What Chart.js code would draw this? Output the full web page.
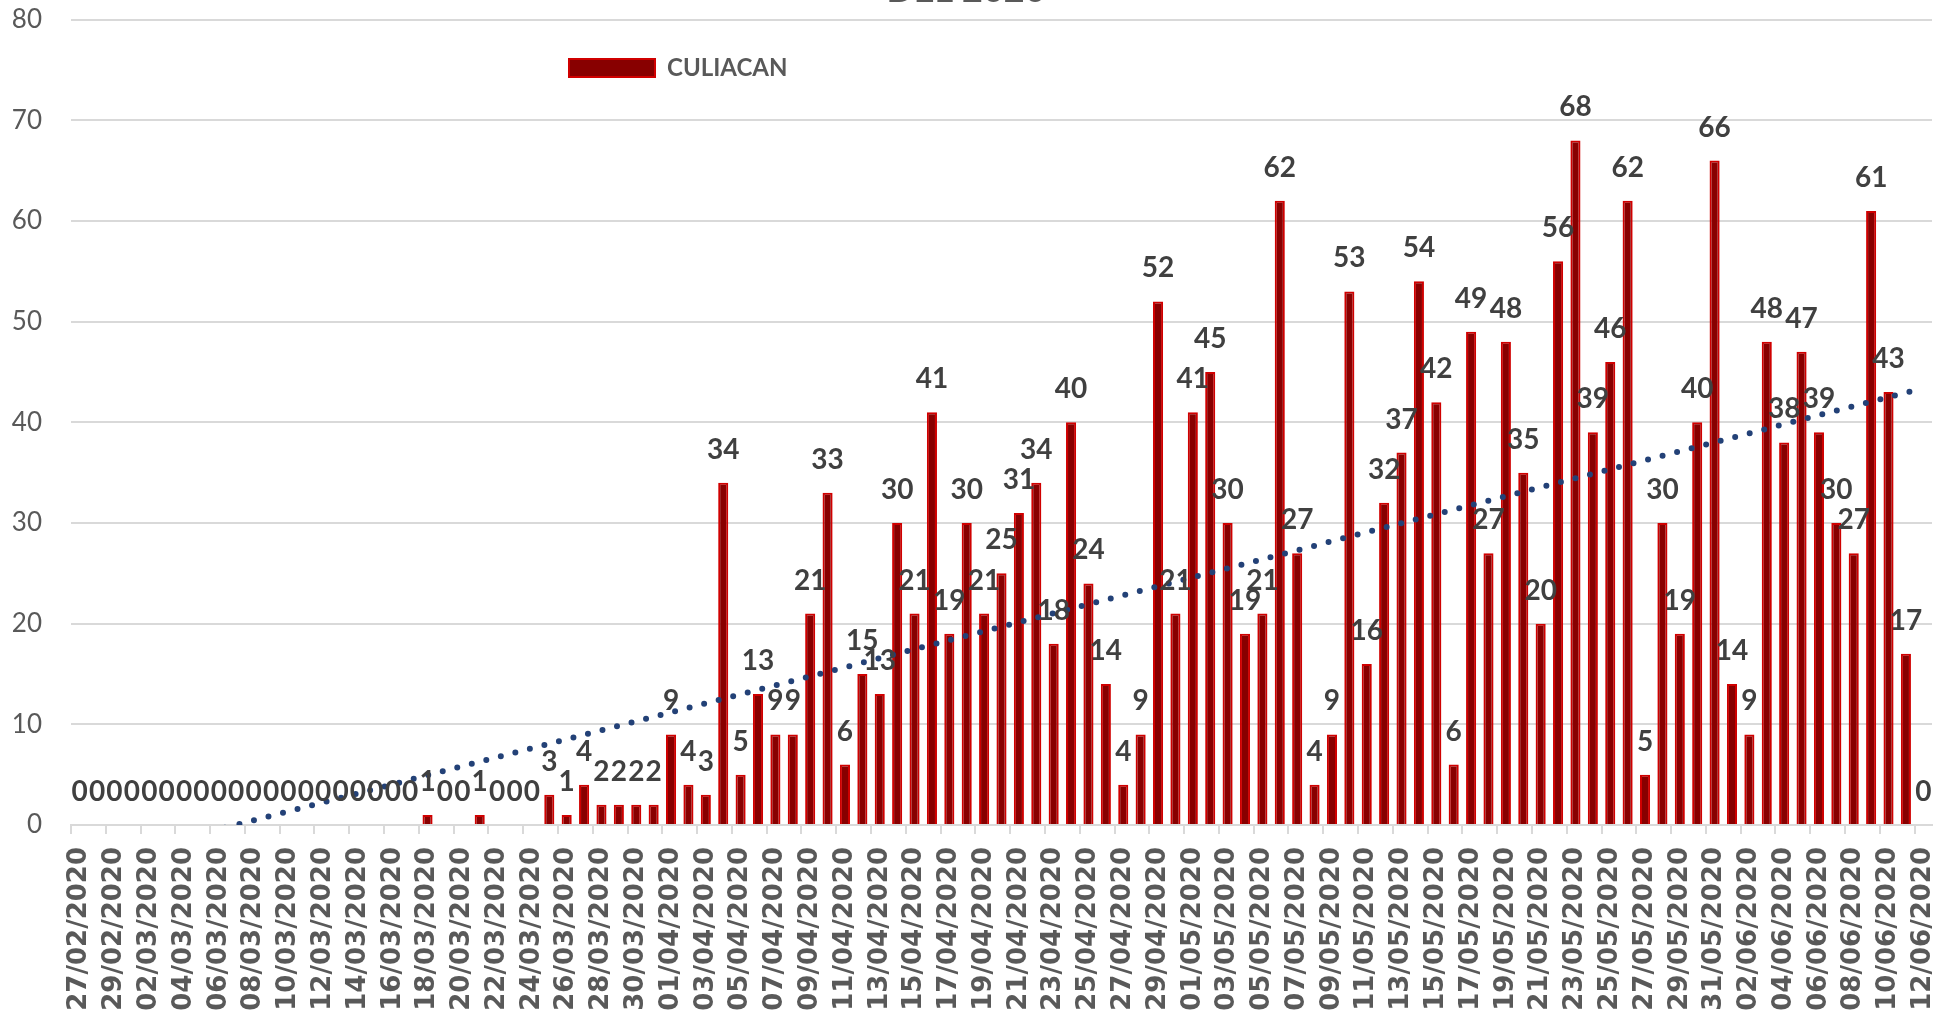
<!DOCTYPE html>
<html>
<head>
<meta charset="utf-8">
<title>Culiacan</title>
<script src="https://cdn.jsdelivr.net/npm/chart.js@4.4.0/dist/chart.umd.min.js"></script>
<style>
  html, body { margin: 0; padding: 0; background: #ffffff; }
  #wrap { width: 1934px; height: 1012px; position: relative; }
</style>
</head>
<body>
<div id="wrap"><canvas id="grafica"></canvas></div>
<script>
const fechas = [
  "27/02/2020", "28/02/2020", "29/02/2020",
  "01/03/2020", "02/03/2020", "03/03/2020", "04/03/2020", "05/03/2020", "06/03/2020", "07/03/2020", "08/03/2020",
  "09/03/2020", "10/03/2020", "11/03/2020", "12/03/2020", "13/03/2020", "14/03/2020", "15/03/2020", "16/03/2020",
  "17/03/2020", "18/03/2020", "19/03/2020", "20/03/2020", "21/03/2020", "22/03/2020", "23/03/2020", "24/03/2020",
  "25/03/2020", "26/03/2020", "27/03/2020", "28/03/2020", "29/03/2020", "30/03/2020", "31/03/2020",
  "01/04/2020", "02/04/2020", "03/04/2020", "04/04/2020", "05/04/2020", "06/04/2020", "07/04/2020", "08/04/2020",
  "09/04/2020", "10/04/2020", "11/04/2020", "12/04/2020", "13/04/2020", "14/04/2020", "15/04/2020", "16/04/2020",
  "17/04/2020", "18/04/2020", "19/04/2020", "20/04/2020", "21/04/2020", "22/04/2020", "23/04/2020", "24/04/2020",
  "25/04/2020", "26/04/2020", "27/04/2020", "28/04/2020", "29/04/2020", "30/04/2020",
  "01/05/2020", "02/05/2020", "03/05/2020", "04/05/2020", "05/05/2020", "06/05/2020", "07/05/2020", "08/05/2020",
  "09/05/2020", "10/05/2020", "11/05/2020", "12/05/2020", "13/05/2020", "14/05/2020", "15/05/2020", "16/05/2020",
  "17/05/2020", "18/05/2020", "19/05/2020", "20/05/2020", "21/05/2020", "22/05/2020", "23/05/2020", "24/05/2020",
  "25/05/2020", "26/05/2020", "27/05/2020", "28/05/2020", "29/05/2020", "30/05/2020", "31/05/2020",
  "01/06/2020", "02/06/2020", "03/06/2020", "04/06/2020", "05/06/2020", "06/06/2020", "07/06/2020", "08/06/2020",
  "09/06/2020", "10/06/2020", "11/06/2020", "12/06/2020"
];

// casos por dia (feb 27 -> jun 12)
const casos = [
  0, 0, 0, 0, 0, 0, 0, 0, 0, 0, 0, 0, 0, 0, 0, 0, 0, 0, 0, 0,
  1, 0, 0, 1, 0, 0, 0, 3, 1, 4, 2, 2, 2, 2,
  9, 4, 3, 34, 5, 13, 9, 9, 21, 33, 6, 15, 13, 30, 21, 41,
  19, 30, 21, 25, 31, 34, 18, 40, 24, 14, 4, 9, 52, 21,
  41, 45, 30, 19, 21, 62, 27, 4, 9, 53, 16, 32, 37, 54, 42, 6,
  49, 27, 48, 35, 20, 56, 68, 39, 46, 62, 5, 30, 19, 40, 66,
  14, 9, 48, 38, 47, 39, 30, 27, 61, 43, 17, 0
];

const serieNombre = "CULIACAN";
const titulo = "DEL 2020";
const yMin = 0;
const yMax = 80;
const yPaso = 10;

// linea de tendencia lineal (minimos cuadrados, como la de Excel)
function tendencia(valores) {
  const n = valores.length;
  let sx = 0, sy = 0, sxy = 0, sxx = 0;
  valores.forEach((v, i) => {
    sx += i; sy += v; sxy += i * v; sxx += i * i;
  });
  const m = (n * sxy - sx * sy) / (n * sxx - sx * sx);
  const b = (sy - m * sx) / n;
  return valores.map((v, i) => m * i + b);
}

const etiquetas = {
  id: "etiquetas",
  afterDatasetsDraw(chart) {
    const ctx = chart.ctx;
    const meta = chart.getDatasetMeta(0);
    ctx.save();
    ctx.font = "bold 28px Lato";
    ctx.fillStyle = "#404040";
    ctx.textAlign = "center";
    ctx.textBaseline = "alphabetic";
    meta.data.forEach((bar, i) => {
      ctx.fillText(String(casos[i]), bar.x, bar.y - 24);
    });
    ctx.restore();
  }
};

const moverLeyenda = {
  id: "moverLeyenda",
  afterLayout(chart) {
    const leg = chart.legend;
    if (!leg) return;
    const w = leg.width, h = leg.height;
    leg.left = 533;
    leg.top = 20;
    leg.right = leg.left + w;
    leg.bottom = leg.top + h;
  }
};

const ctx = document.getElementById("grafica");

const chart = new Chart(ctx, {
  type: "bar",
  data: {
    labels: fechas,
    datasets: [
      {
        type: "bar",
        label: serieNombre,
        data: casos,
        backgroundColor: "#880000",
        borderColor: "#d00000",
        borderWidth: 2,
        categoryPercentage: 1,
        barPercentage: 0.58,
        order: 1
      },
      {
        type: "line",
        label: "Lineal",
        data: tendencia(casos),
        borderColor: "#234177",
        borderWidth: 6,
        borderDash: [0, 15],
        borderCapStyle: "round",
        pointRadius: 0,
        fill: false,
        tension: 0,
        clip: 0,
        order: 0
      }
    ]
  },
  options: {
    responsive: true,
    maintainAspectRatio: false,
    animation: false,
    devicePixelRatio: 1,
    layout: { padding: { left: 0, right: 2, top: 0, bottom: 0 } },
    scales: {
      x: {
        offset: true,
        grid: {
          display: true,
          offset: true,
          drawOnChartArea: false,
          drawTicks: true,
          tickLength: 9,
          lineWidth: 2,
          color: (c) => (c.index !== undefined && c.index % 2 === 0 ? "#d9d9d9" : "rgba(0,0,0,0)")
        },
        border: { display: true, color: "#d9d9d9", width: 2 },
        ticks: {
          autoSkip: false,
          minRotation: 90,
          maxRotation: 90,
          padding: 13,
          color: "#595959",
          font: { family: "DejaVu Sans", size: 26, weight: "bold" },
          callback: function (v, i) {
            return i % 2 === 0 ? fechas[i] : "";
          }
        },
        afterFit(scale) {
          scale.height = 187;
          scale.paddingLeft = 0;
          scale.paddingRight = 0;
        }
      },
      y: {
        min: yMin,
        max: yMax,
        ticks: {
          stepSize: yPaso,
          padding: 29,
          color: "#595959",
          font: { family: "Lato", size: 26 }
        },
        grid: { color: "#d9d9d9", lineWidth: 2, drawTicks: false },
        border: { display: false },
        afterFit(scale) {
          scale.width = 71;
          scale.paddingTop = 0;
          scale.paddingBottom = 0;
        }
      }
    },
    plugins: {
      title: {
        display: true,
        text: titulo,
        color: "#595959",
        font: { family: "Lato", size: 36, weight: "bold" },
        padding: { top: -31.6, bottom: 8 }
      },
      legend: {
        position: "chartArea",
        align: "start",
        labels: {
          boxWidth: 86,
          boxHeight: 18,
          padding: 36,
          color: "#595959",
          font: { family: "Lato", size: 24, weight: "bold" },
          filter: (item) => item.datasetIndex === 0
        }
      },
      tooltip: { enabled: false }
    }
  },
  plugins: [etiquetas, moverLeyenda]
});
</script>
</body>
</html>
